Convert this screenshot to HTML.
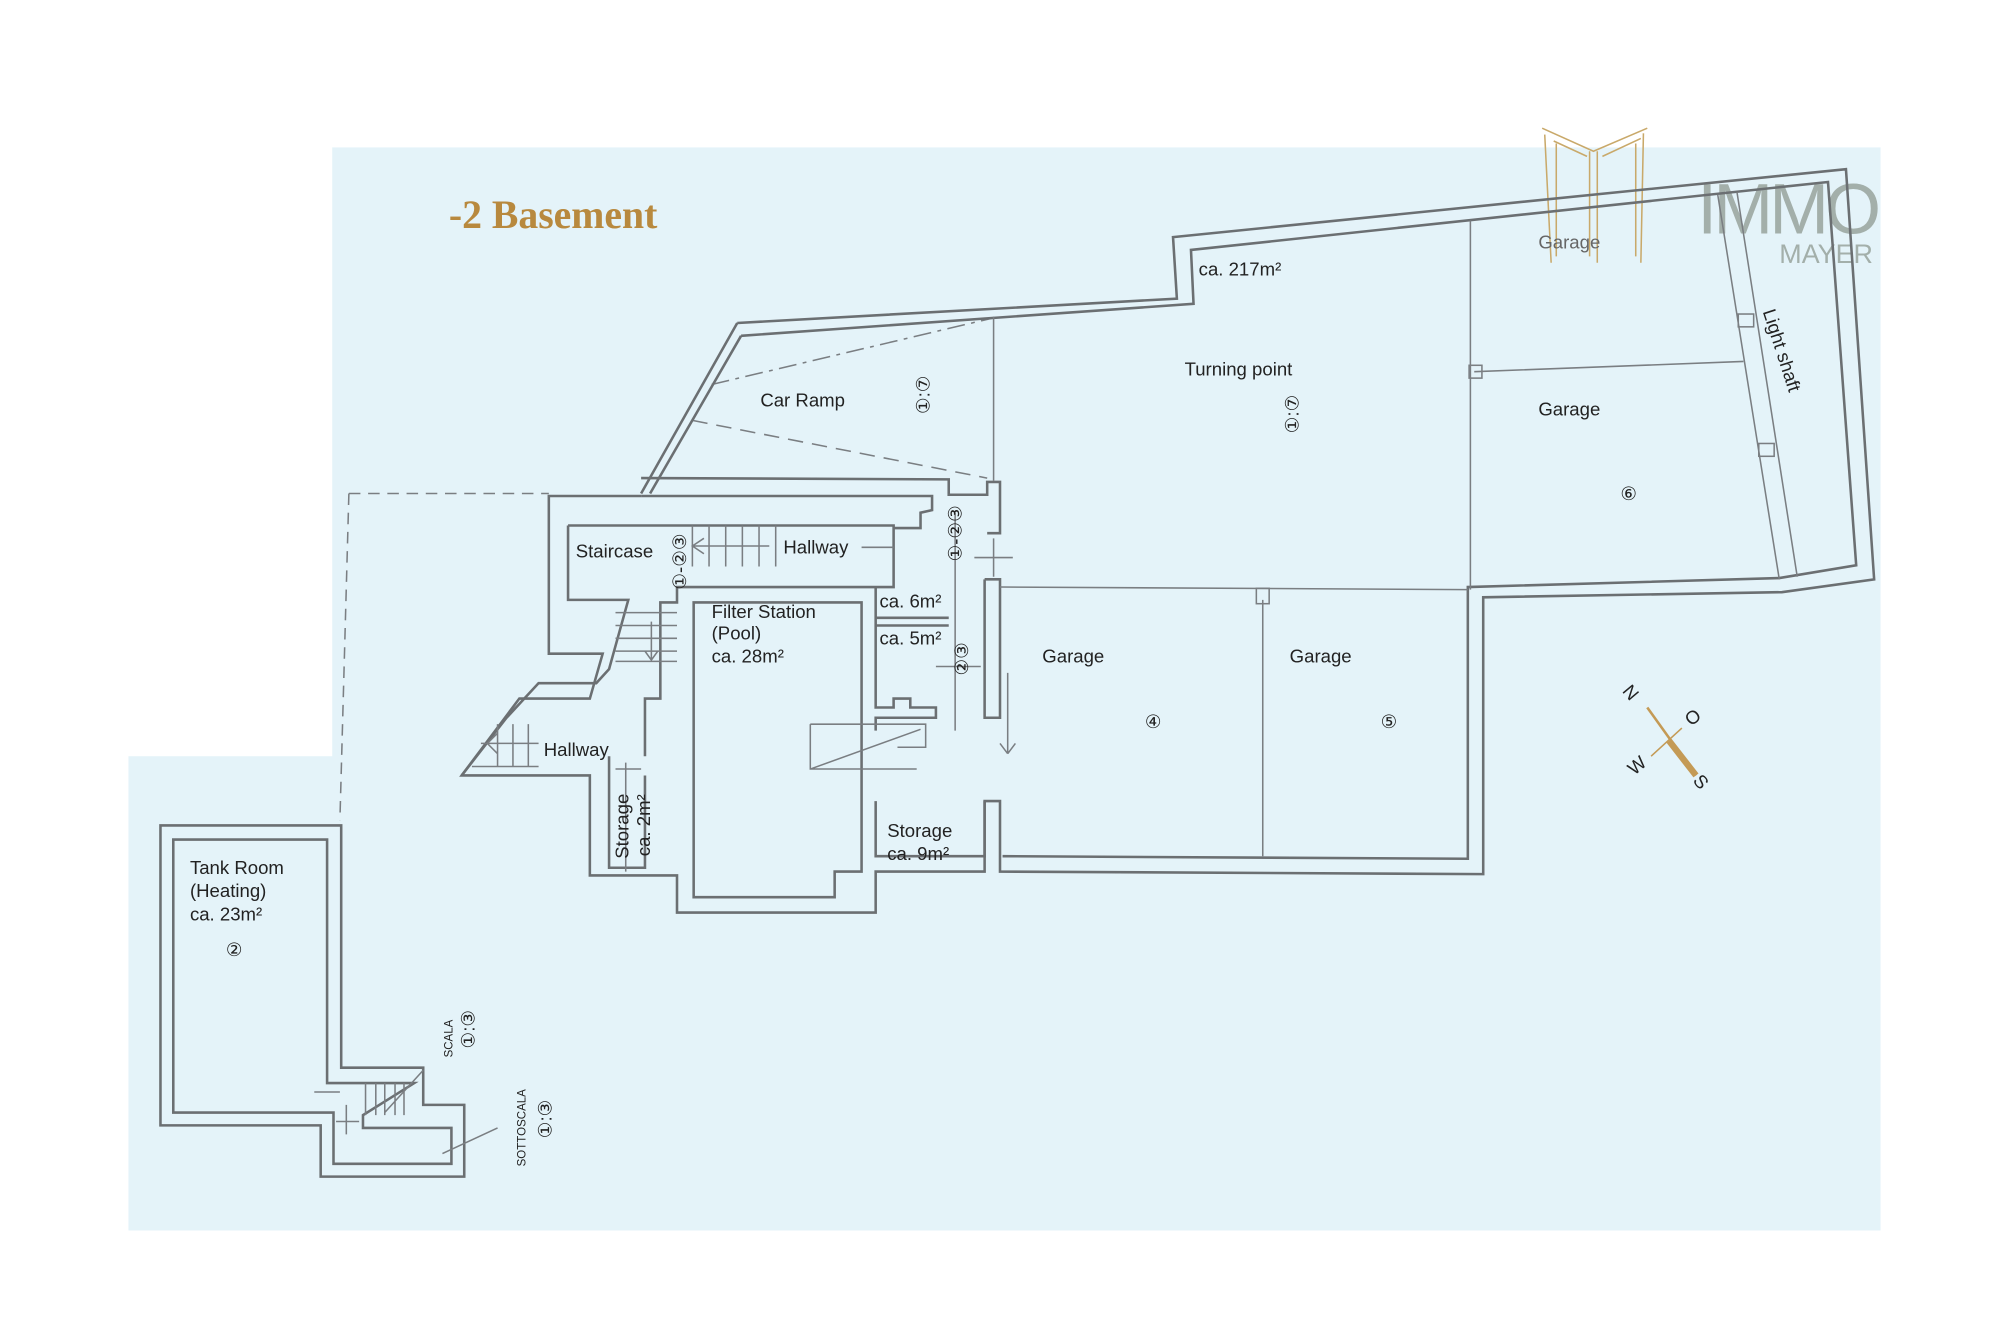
<!DOCTYPE html>
<html><head><meta charset="utf-8"><style>
html,body{margin:0;padding:0;background:#fff;width:2000px;height:1333px;overflow:hidden}
svg{display:block}
text{font-family:"Liberation Sans",sans-serif;fill:#222;font-size:14.5px}
.w{fill:none;stroke:#6b6f72;stroke-width:2}
.t{fill:none;stroke:#7a7e82;stroke-width:1.2}
.c{fill:#9aa;font-size:11px}
</style></head><body>
<svg width="2000" height="1333" viewBox="0 0 1560 1040" xmlns="http://www.w3.org/2000/svg">
<rect x="259" y="115" width="1208" height="845" fill="#e4f3f9"/>
<rect x="100" y="590" width="160" height="370" fill="#e4f3f9"/>
<text x="350" y="178" style="font-family:'Liberation Serif',serif;font-weight:bold;font-size:31px;fill:#b8893e">-2 Basement</text>

<!-- logo -->
<g fill="none" stroke="#c9a96a" stroke-width="1.2">
<path d="M1203,100 L1243,118 L1285,100 M1205,105 L1210,205 M1282,104 L1280,205 M1240,118 L1240,200 M1246,118 L1246,205 M1212,110 L1238,122 M1280,108 L1250,122 M1214,112 L1214,200 M1276,112 L1276,200"/>
</g>
<text x="1324" y="182" style="font-size:56px;fill:#a3afaa;letter-spacing:-3px">IMMO</text>
<text x="1388" y="205" style="font-size:21px;fill:#a3afaa">MAYER</text>

<!-- dashed -->
<path d="M272,385 L428,385 M272,385 L265,640" class="t" stroke-dasharray="9,6"/>
<path d="M555,300 L775,248" class="t" stroke-dasharray="14,5,3,5"/>
<path d="M540,328 L770,373" class="t" stroke-dasharray="12,7"/>

<!-- garage outer -->
<path class="w" d="M575,252 L918,233 L915,185 L1440,132 L1462,452 L1390,462 L1157,466 L1157,682 L780,680 L780,625 L768,625 L768,680 L683,680 L683,712 L528,712 L528,683 L460,683 L460,605 L360,605 L405,545 L460,545 L470,510 L428,510 L428,387 L500,387"/>
<path class="w" d="M578,262 L931,237 L929,195 L1426,142 L1448,441 L1388,451 L1145,458 L1145,670 L782,668"/>
<path class="w" d="M575,252 L500,385 M578,262 L507,385"/>
<path class="w" d="M500,373 L740,374 L740,386 L770,386 L770,376 L780,376 L780,416 L770,416 M500,387 L727,387 L727,398 L718,400 L718,412 L697,412"/>
<path class="w" d="M768,452 L780,452 L780,560 L768,560 L768,452"/>
<path class="w" d="M443,410 L697,410 L697,458 L683,458 L683,552 L697,552 L697,545 L710,545 L710,552 L730,552 L730,560 L683,560 L683,570 M683,625 L683,668 L768,668 L768,625 M443,410 L443,468 L490,468 L475,522 L465,533 L420,533 L395,560 L360,605 M475,590 L475,677 L503,677 L503,605 M507,545 L515,545 L515,470 L528,470 L528,458 L683,458 M515,545 L503,545 L503,590"/>
<path class="w" d="M683,488 L740,488 M683,482 L740,482"/>
<path class="w" d="M541,470 L672,470 L672,680 L651,680 L651,700 L541,700 Z"/>
<path class="t" d="M632,565 L722,565 L722,583 L700,583 M632,565 L632,600 L715,600 M632,600 L718,569"/>
<path class="t" d="M540,410 L540,442 M553,410 L553,442 M566,410 L566,442 M579,410 L579,442 M592,410 L592,442 M605,410 L605,442 M540,426 L600,426 M549,420 L540,426 L549,432"/>
<path class="t" d="M480,478 L528,478 M480,488 L528,488 M480,498 L528,498 M480,508 L528,508 M480,516 L528,516 M508,485 L508,515 M503,508 L508,515 L513,508"/>
<path class="t" d="M388,565 L388,598 M400,565 L400,598 M412,565 L412,598 M375,580 L420,580 M368,598 L420,598 M388,572 L380,580 L388,588"/>
<path class="t" d="M672,427 L697,427 M760,435 L790,435 M775,420 L775,450 M745,400 L745,570 M730,520 L765,520 M786,525 L786,588 M780,580 L786,588 M792,580 L786,588 M488,595 L488,680 M480,600 L500,600"/>
<path class="t" d="M775,247 L775,375 M1147,172 L1147,460 M1150,290 L1360,282 M780,458 L1145,460 M985,468 L985,668"/>
<path class="t" d="M1340,152 L1388,452 M1355,150 L1402,450"/>
<rect x="1146" y="285" width="10" height="10" class="t" fill="#e4f3f9"/>
<rect x="1356" y="245" width="12" height="10" class="t" fill="#e4f3f9"/>
<rect x="1372" y="346" width="12" height="10" class="t" fill="#e4f3f9"/>
<rect x="980" y="459" width="10" height="12" class="t" fill="#e4f3f9"/>
<path class="w" d="M125,644 L266,644 L266,833 L330,833 L330,862 L362,862 L362,918 L250,918 L250,878 L125,878 Z"/>
<path class="w" d="M135,655 L255,655 L255,845 L323,845 L283,870 L283,880 L352,880 L352,908 L260,908 L260,868 L135,868 Z"/>
<path class="t" d="M285,845 L285,870 M293,845 L293,870 M300,845 L300,870 M308,845 L308,870 M315,845 L315,870 M300,868 L330,835 M345,900 L388,880 M245,852 L265,852 M270,862 L270,885 M262,875 L280,875"/>

<g class="c">
<text x="697" y="335" transform="rotate(-90 705 315)">①:⑦</text>
<text x="990" y="345" transform="rotate(-90 998 330)">①:⑦</text>
<text x="505" y="470" transform="rotate(-90 515 450)">①-②③</text>
<text x="737" y="435" transform="rotate(-90 745 430)">①-②③</text>
<text x="738" y="530" transform="rotate(-90 745 520)">②③</text>
<text x="893" y="568">④</text><text x="1077" y="568">⑤</text><text x="1264" y="390">⑥</text>
<text x="176" y="746">②</text>
<text x="362" y="810" transform="rotate(-90 370 810)">①:③</text>
<text x="422" y="880" transform="rotate(-90 430 880)">①:③</text>
<text x="343" y="815" transform="rotate(-90 353 815)" style="font-size:9px">SCALA</text>
<text x="405" y="905" transform="rotate(-90 410 905)" style="font-size:9px">SOTTOSCALA</text>
</g>

<text x="593" y="317">Car Ramp</text>
<text x="924" y="293">Turning point</text>
<text x="935" y="215">ca. 217m²</text>
<text x="1200" y="324">Garage</text>
<text x="1200" y="194" style="fill:#666">Garage</text>
<text x="1375" y="243" transform="rotate(72 1375 243)">Light shaft</text>
<text x="449" y="435">Staircase</text>
<text x="611" y="432">Hallway</text>
<text x="555" y="482">Filter Station</text>
<text x="555" y="499">(Pool)</text>
<text x="555" y="517">ca. 28m²</text>
<text x="686" y="474">ca. 6m²</text>
<text x="686" y="503">ca. 5m²</text>
<text x="813" y="517">Garage</text>
<text x="1006" y="517">Garage</text>
<text x="424" y="590">Hallway</text>
<text x="490" y="670" transform="rotate(-90 490 670)">Storage</text>
<text x="507" y="668" transform="rotate(-90 507 668)">ca. 2m²</text>
<text x="692" y="653">Storage</text>
<text x="692" y="671">ca. 9m²</text>
<text x="148" y="682">Tank Room</text>
<text x="148" y="700">(Heating)</text>
<text x="148" y="718">ca. 23m²</text>

<path d="M1285,552 L1323,605" stroke="#c49a55" stroke-width="2"/>
<path d="M1302,578 L1323,605" stroke="#c49a55" stroke-width="5"/>
<path d="M1288,590 L1312,568" stroke="#c49a55" stroke-width="1.2"/>
<g style="font-size:12px;fill:#333">
<text x="1267" y="545" transform="rotate(50 1272 540)">N</text>
<text x="1315" y="565" transform="rotate(-40 1320 560)">O</text>
<text x="1270" y="602" transform="rotate(-40 1277 597)">W</text>
<text x="1322" y="615" transform="rotate(50 1327 610)">S</text>
</g>
</svg>
</body></html>
